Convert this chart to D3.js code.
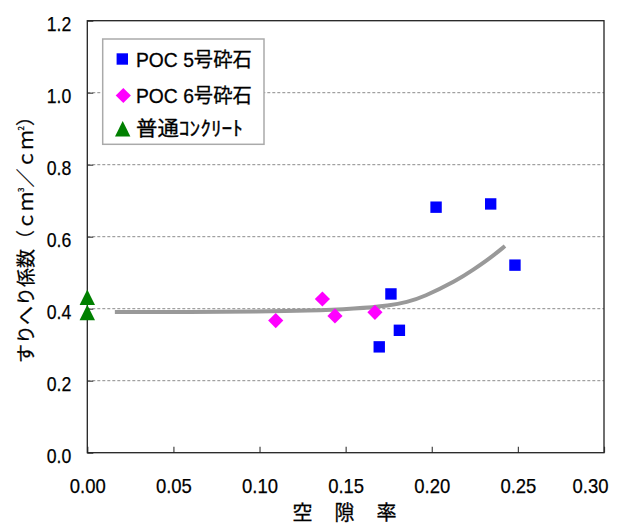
<!DOCTYPE html>
<html><head><meta charset="utf-8">
<script src="https://cdn.jsdelivr.net/npm/d3@7"></script>
<style>body{margin:0;background:#fff}</style>
</head><body>
<svg id="c" width="621" height="527"></svg>
<script>
// ---- data ----
const xTicks = [0, 0.05, 0.10, 0.15, 0.20, 0.25, 0.30];
const yTicks = [0, 0.2, 0.4, 0.6, 0.8, 1.0, 1.2];
const poc5X = [0.2025, 0.2342, 0.2483, 0.1763, 0.1812, 0.1695];
const poc5Y = [0.682, 0.691, 0.521, 0.441, 0.340, 0.294];
const poc6X = [0.1094, 0.1365, 0.1438, 0.1670];
const poc6Y = [0.367, 0.427, 0.380, 0.390];
const normX = [0, 0];
const normY = [0.431, 0.389];
const curveX = [0.016, 0.06, 0.10, 0.128, 0.156, 0.176, 0.1855, 0.195, 0.2145, 0.2241, 0.2338, 0.2425];
const curveY = [0.391, 0.391, 0.392, 0.394, 0.400, 0.409, 0.418, 0.432, 0.478, 0.508, 0.540, 0.574];
const legendLabels = ["POC 5号砕石", "POC 6号砕石", "普通ｺﾝｸﾘｰﾄ"];
const xTitle = "空　隙　率";

// ---- layout ----
const L = 87.3, R = 604, T = 20.7, B = 452.7;
const svg = d3.select("#c");
const x = d3.scaleLinear().domain([0, 0.3]).range([L, R]);
const y = d3.scaleLinear().domain([0, 1.2]).range([B, T]);
const numFont = "'Liberation Sans', Arial, sans-serif";
const jpFont = "'Liberation Sans', 'Noto Sans CJK JP', sans-serif";

// gridlines
svg.append("g").selectAll("line").data(yTicks.filter(v => v > 0 && v < 1.2)).join("line")
  .attr("x1", L).attr("x2", R).attr("y1", d => y(d)).attr("y2", d => y(d))
  .attr("stroke", "#8a8a8a").attr("stroke-width", 1).attr("stroke-dasharray", "3,2");

// axes (inward ticks)
const yAxis = svg.append("g").attr("transform", `translate(${L},0)`)
  .call(d3.axisLeft(y).tickValues(yTicks).tickSize(-6).tickFormat(d3.format(".1f")));
const xAxis = svg.append("g").attr("transform", `translate(0,${B})`)
  .call(d3.axisBottom(x).tickValues(xTicks).tickSize(-6).tickFormat(d3.format(".2f")));
[yAxis, xAxis].forEach(g => {
  g.select(".domain").remove();
  g.selectAll(".tick line").attr("stroke", "#444").attr("stroke-width", 1.2);
  g.selectAll(".tick text").attr("font-family", numFont).attr("font-size", 21).attr("fill", "#000")
    .attr("stroke", "#000").attr("stroke-width", 0.25)
    .attr("lengthAdjust", "spacingAndGlyphs");
});
yAxis.selectAll(".tick text").attr("x", -16).attr("dy", null).attr("y", 10)
  .each(function(){ const w = this.getComputedTextLength(); d3.select(this).attr("textLength", w * 0.84); });
xAxis.selectAll(".tick text").attr("y", 40.6).attr("dy", null)
  .each(function(d){
    const w = this.getComputedTextLength() * 0.88;
    const s = d3.select(this).attr("textLength", w);
    const cx = x(d);
    if (cx + w / 2 > 608) s.attr("text-anchor", "end").attr("x", 608 - cx);
  });

// frame
svg.append("rect").attr("x", L).attr("y", T).attr("width", R - L).attr("height", B - T)
  .attr("fill", "none").attr("stroke", "#222").attr("stroke-width", 1.3);

// trend curve
const pts = curveX.map((v, i) => [v, curveY[i]]);
svg.append("path").datum(pts)
  .attr("d", d3.line().x(d => x(d[0])).y(d => y(d[1])).curve(d3.curveBasis))
  .attr("fill", "none").attr("stroke", "#999").attr("stroke-width", 4).attr("stroke-linecap", "butt");

// markers
const sq = d3.symbol().type(d3.symbolSquare).size(130)();
const dia = d3.symbol().type(d3.symbolSquare).size(115)();
const tri = "M0,-8L7.7,7.5L-7.7,7.5Z";
function drawPts(X, Y, path, fill, rot) {
  svg.append("g").selectAll("path").data(X.map((v, i) => [v, Y[i]])).join("path")
    .attr("d", path).attr("fill", fill)
    .attr("transform", d => `translate(${x(d[0])},${y(d[1])})` + (rot ? " rotate(45)" : ""));
}
drawPts(poc6X, poc6Y, dia, "#ff00ff", true);
drawPts(poc5X, poc5Y, sq, "#0000ff", false);
drawPts(normX, normY, tri, "#008000", false);

// legend
const lg = svg.append("g");
lg.append("rect").attr("x", 102.7).attr("y", 39).attr("width", 161.3).attr("height", 105.3)
  .attr("fill", "#fff").attr("stroke", "#aaa").attr("stroke-width", 1.5);
const lgY = [59, 95.5, 129];
const lgBase = [66.5, 103, 136];
const lgW = [115.7, 115.7, 107];
lg.append("path").attr("d", sq).attr("fill", "#0000ff").attr("transform", `translate(122.3,${lgY[0]})`);
lg.append("path").attr("d", dia).attr("fill", "#ff00ff").attr("transform", `translate(123.3,${lgY[1]}) rotate(45)`);
lg.append("path").attr("d", tri).attr("fill", "#008000").attr("transform", `translate(122.7,${lgY[2]})`);
legendLabels.forEach((t, i) => {
  lg.append("text").attr("x", 136).attr("y", lgBase[i]).text(t)
    .attr("font-family", jpFont).attr("font-size", 20).attr("fill", "#000")
    .attr("stroke", "#000").attr("stroke-width", 0.3)
    .attr("textLength", lgW[i]).attr("lengthAdjust", "spacingAndGlyphs");
});

// axis titles
svg.append("text").attr("x", 345).attr("y", 520).attr("text-anchor", "middle")
  .attr("font-family", "'Noto Sans CJK JP', sans-serif").attr("font-size", 20).attr("letter-spacing", 1)
  .attr("fill", "#000").attr("stroke", "#000").attr("stroke-width", 0.3).text(xTitle);

const yt = svg.append("text").attr("transform", "translate(33,235) rotate(-90)")
  .attr("text-anchor", "middle").attr("font-family", "'Noto Sans CJK JP', sans-serif")
  .attr("font-size", 19).attr("fill", "#000").attr("stroke", "#000").attr("stroke-width", 0.25);
yt.append("tspan").text("すりへり係数（ｃｍ");
yt.append("tspan").attr("font-size", 8).attr("dy", -9).text("3");
yt.append("tspan").attr("dy", 9).text("／ｃｍ");
yt.append("tspan").attr("font-size", 8).attr("dy", -9).text("2");
yt.append("tspan").attr("dy", 9).text("）");
</script>
</body></html>
